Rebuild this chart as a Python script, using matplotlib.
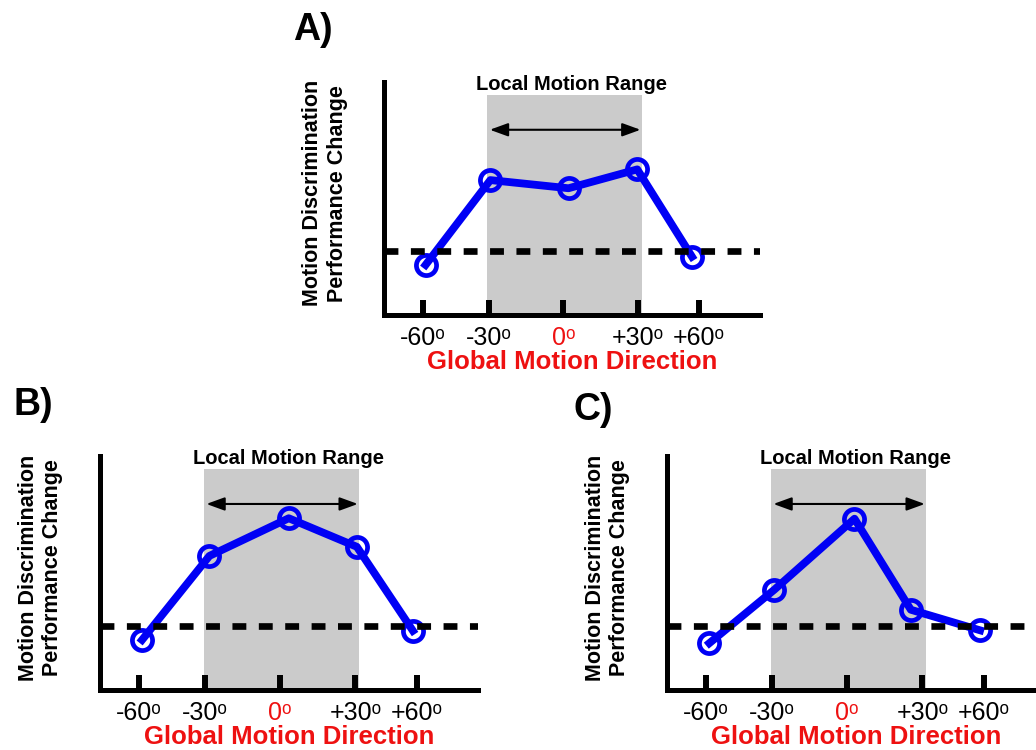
import matplotlib
matplotlib.use("Agg")
import matplotlib.pyplot as plt

plt.rcParams['font.family'] = ['Liberation Sans', 'DejaVu Sans']
plt.rcParams['lines.scale_dashes'] = False

# Direction ticks and their labels
tick_pos = [-56.5, -30, 0, 30, 54.5]
tick_labels = ['-60\u1d52', '-30\u1d52', '0\u1d52', '+30\u1d52', '+60\u1d52']

# Performance change for each global motion direction (three hypotheses)
a_x = [-55.3, -29.3, 2.1, 29.7, 51.7]
a_y = [2.15, 5.79, 5.44, 6.25, 2.50]
b_x = [-55.2, -28.3, 3.4, 30.6, 53.0]
b_y = [2.14, 5.73, 7.34, 6.12, 2.53]
c_x = [-55.1, -29.1, 2.9, 25.4, 53.1]
c_y = [2.00, 4.29, 7.32, 3.43, 2.55]

baseline = 2.75
local_range = (-30.5, 31.5)
arrow_span = (-29.5, 31.0)

BLUE = '#0000F5'
RED = '#EE1111'
GRAY = '#CBCBCB'

fig = plt.figure(figsize=(10.36, 7.5), dpi=100)


def panel(rect, xs, ys, letter, letter_pos):
    ax = fig.add_axes(rect)
    ax.set_xlim(-72, 79)
    ax.set_ylim(0, 10)
    for s in ('top', 'right'):
        ax.spines[s].set_visible(False)
    for s in ('left', 'bottom'):
        ax.spines[s].set_linewidth(3.6)
        ax.spines[s].set_zorder(6)
    ax.set_yticks([])

    # shaded local motion range
    ax.axvspan(local_range[0], local_range[1], ymin=0, ymax=0.945,
               color=GRAY, lw=0, zorder=0)
    ax.annotate('', xy=(arrow_span[1], 7.95), xytext=(arrow_span[0], 7.95),
                arrowprops=dict(arrowstyle='<|-|>,head_length=1.1,head_width=0.4',
                                color='black', lw=1.5, shrinkA=0, shrinkB=0),
                zorder=2)
    ax.text(3.3, 9.9, 'Local Motion Range', ha='center', va='center',
            fontsize=14.5, fontweight='bold', zorder=3)

    ax.plot(xs, ys, color=BLUE, lw=5.6, marker='o', markersize=14.5,
            markerfacecolor='none', markeredgecolor=BLUE,
            markeredgewidth=3.4, zorder=3, solid_joinstyle='round')
    ax.axhline(baseline, color='black', lw=4.8, dashes=(10, 9), zorder=4)

    ax.set_xticks(tick_pos, tick_labels)
    ax.tick_params(axis='x', direction='in', length=11, width=4.3,
                   labelsize=18, pad=8, color='black')
    for tick, lab in zip(ax.xaxis.get_major_ticks(), tick_labels):
        if lab.startswith('0'):
            tick.tick1line.set_color(RED)
            tick.label1.set_color(RED)

    ax.text(0.5, -0.2, 'Global Motion Direction', transform=ax.transAxes,
            ha='center', va='center', color=RED, fontsize=18.5,
            fontweight='bold')
    ax.text(-0.157, 0.522, 'Motion Discrimination\nPerformance Change',
            transform=ax.transAxes, rotation=90, ha='center', va='center',
            fontsize=15.5, fontweight='bold', linespacing=1.2)
    fig.text(letter_pos[0], letter_pos[1], letter, ha='center', va='center',
             fontsize=27, fontweight='bold')
    return ax


W, H = 1036, 750
panel([384 / W, 1 - 315 / H, 376 / W, 233 / H], a_x, a_y, 'A)', (313 / W, 1 - 30 / H))
panel([100 / W, 1 - 690 / H, 378 / W, 234 / H], b_x, b_y, 'B)', (33 / W, 1 - 405 / H))
panel([667 / W, 1 - 690 / H, 378 / W, 234 / H], c_x, c_y, 'C)', (593 / W, 1 - 410 / H))

fig.savefig('out.png', dpi=100)
